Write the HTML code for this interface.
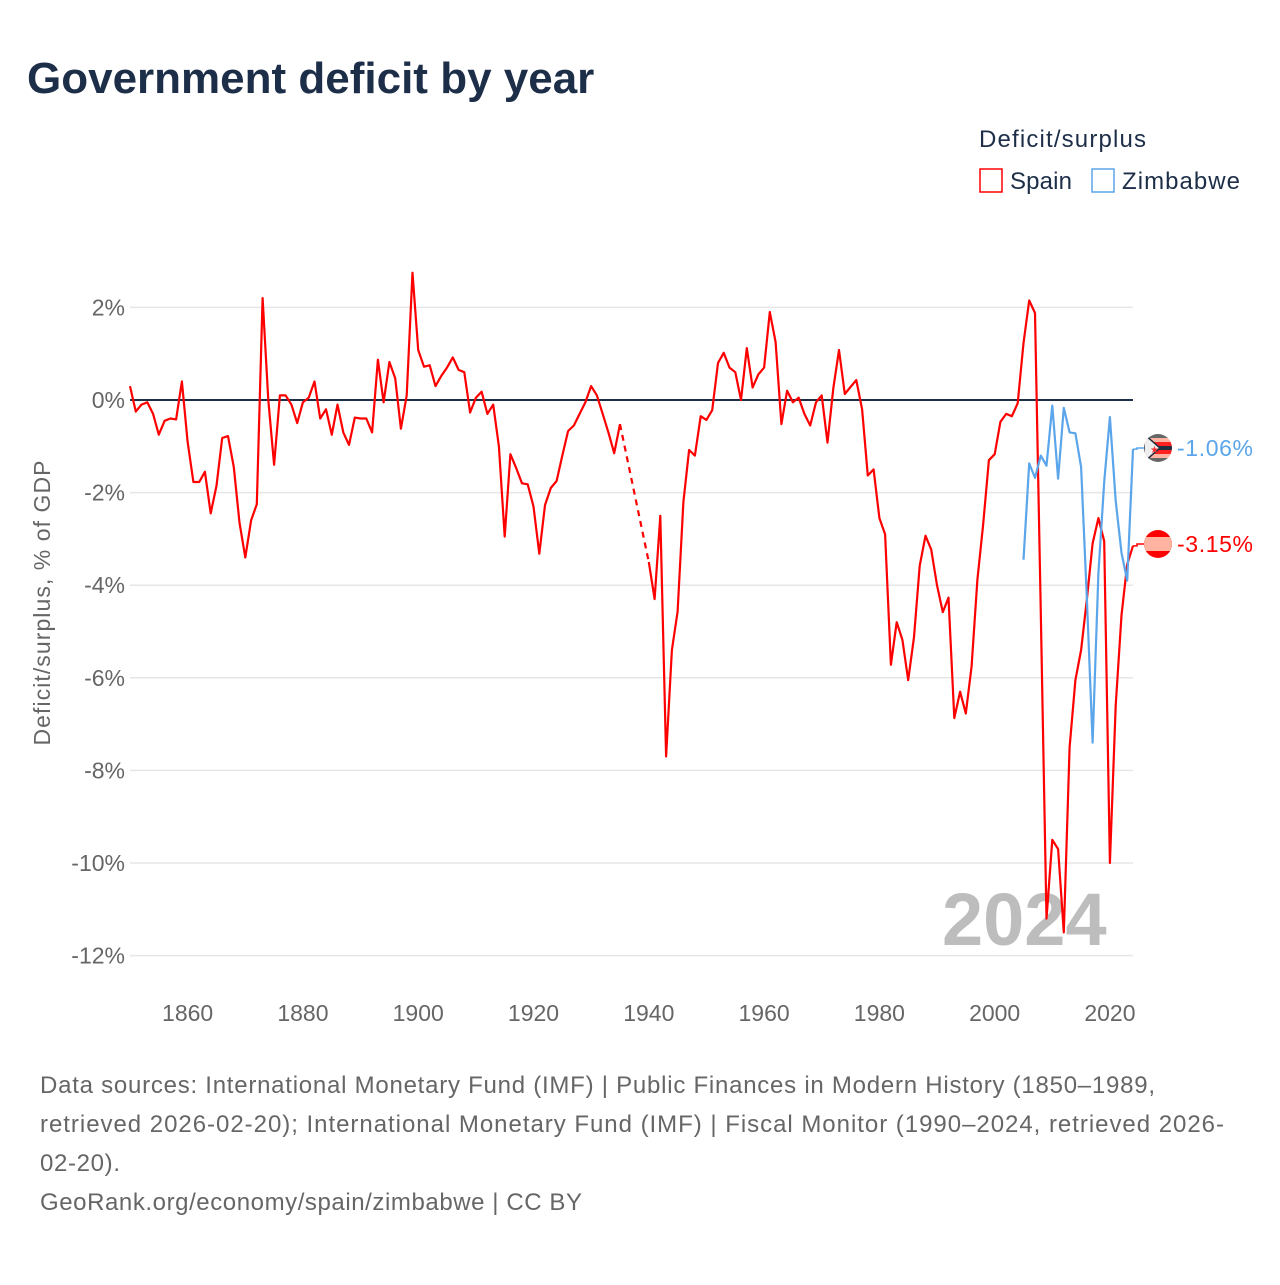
<!DOCTYPE html>
<html><head><meta charset="utf-8"><style>
html,body{margin:0;padding:0;background:#fff;}
body{width:1280px;height:1280px;overflow:hidden;font-family:"Liberation Sans",sans-serif;}
svg text{font-family:"Liberation Sans",sans-serif;}
</style></head><body>
<svg id="chart" width="1280" height="1280" viewBox="0 0 1280 1280">
<text x="27" y="93" font-size="44" font-weight="bold" fill="#1d2e48">Government deficit by year</text>
<text x="979" y="147" font-size="24" fill="#1d2e48" textLength="167" lengthAdjust="spacing">Deficit/surplus</text>
<g><rect x="980" y="169" width="22" height="23" fill="none" stroke="#ff0000" stroke-width="1.5"/><text x="1010" y="189" font-size="24" fill="#1d2e48" textLength="62" lengthAdjust="spacing">Spain</text></g>
<g><rect x="1092" y="169" width="22" height="23" fill="none" stroke="#5ba5eb" stroke-width="1.5"/><text x="1122" y="189" font-size="24" fill="#1d2e48" textLength="118" lengthAdjust="spacing">Zimbabwe</text></g>
<g id="grid"></g><g id="yticks"></g><g id="xticks"></g>
<text x="942" y="945" font-size="74" font-weight="bold" fill="#bdbdbd">2024</text>
<g id="series"></g>
<text transform="translate(50,603) rotate(-90)" text-anchor="middle" font-size="23" fill="#666" textLength="285" lengthAdjust="spacing">Deficit/surplus, % of GDP</text>
<g font-size="24" fill="#666">
<text x="40" y="1093" textLength="1115" lengthAdjust="spacing">Data sources: International Monetary Fund (IMF) | Public Finances in Modern History (1850–1989,</text>
<text x="40" y="1132" textLength="1184" lengthAdjust="spacing">retrieved 2026-02-20); International Monetary Fund (IMF) | Fiscal Monitor (1990–2024, retrieved 2026-</text>
<text x="40" y="1171" textLength="80" lengthAdjust="spacing">02-20).</text>
<text x="40" y="1210" textLength="542" lengthAdjust="spacing">GeoRank.org/economy/spain/zimbabwe | CC BY</text>
</g>
</svg>
<script>
const spainYears=[1850,1851,1852,1853,1854,1855,1856,1857,1858,1859,1860,1861,1862,1863,1864,1865,1866,1867,1868,1869,1870,1871,1872,1873,1874,1875,1876,1877,1878,1879,1880,1881,1882,1883,1884,1885,1886,1887,1888,1889,1890,1891,1892,1893,1894,1895,1896,1897,1898,1899,1900,1901,1902,1903,1904,1905,1906,1907,1908,1909,1910,1911,1912,1913,1914,1915,1916,1917,1918,1919,1920,1921,1922,1923,1924,1925,1926,1927,1928,1929,1930,1931,1932,1933,1934,1935,1940,1941,1942,1943,1944,1945,1946,1947,1948,1949,1950,1951,1952,1953,1954,1955,1956,1957,1958,1959,1960,1961,1962,1963,1964,1965,1966,1967,1968,1969,1970,1971,1972,1973,1974,1975,1976,1977,1978,1979,1980,1981,1982,1983,1984,1985,1986,1987,1988,1989,1990,1991,1992,1993,1994,1995,1996,1997,1998,1999,2000,2001,2002,2003,2004,2005,2006,2007,2008,2009,2010,2011,2012,2013,2014,2015,2016,2017,2018,2019,2020,2021,2022,2023,2024];
const spainValues=[0.3,-0.25,-0.1,-0.05,-0.3,-0.75,-0.45,-0.4,-0.42,0.4,-0.9,-1.77,-1.77,-1.55,-2.45,-1.85,-0.82,-0.78,-1.45,-2.65,-3.4,-2.6,-2.25,2.2,0,-1.4,0.1,0.1,-0.1,-0.5,-0.05,0.05,0.4,-0.4,-0.2,-0.75,-0.1,-0.7,-0.97,-0.38,-0.4,-0.4,-0.7,0.87,-0.05,0.82,0.47,-0.62,0.1,2.75,1.08,0.72,0.75,0.3,0.52,0.7,0.92,0.65,0.6,-0.27,0.05,0.18,-0.3,-0.1,-1.0,-2.95,-1.17,-1.47,-1.8,-1.82,-2.3,-3.32,-2.27,-1.9,-1.75,-1.2,-0.67,-0.55,-0.3,-0.05,0.3,0.1,-0.3,-0.7,-1.15,-0.52,-3.5,-4.3,-2.5,-7.7,-5.4,-4.57,-2.2,-1.08,-1.2,-0.35,-0.43,-0.22,0.8,1.02,0.7,0.6,0,1.12,0.27,0.55,0.7,1.9,1.25,-0.52,0.2,-0.05,0.05,-0.3,-0.55,-0.05,0.1,-0.92,0.25,1.08,0.13,0.28,0.43,-0.2,-1.63,-1.5,-2.55,-2.9,-5.72,-4.8,-5.18,-6.05,-5.12,-3.58,-2.93,-3.23,-4.0,-4.58,-4.27,-6.87,-6.3,-6.77,-5.75,-3.88,-2.7,-1.3,-1.17,-0.47,-0.3,-0.35,-0.07,1.23,2.15,1.88,-4.6,-11.2,-9.5,-9.7,-11.5,-7.5,-6.05,-5.4,-4.3,-3.1,-2.55,-3.05,-10.0,-6.6,-4.65,-3.55,-3.15];
const zimYears=[2005,2006,2007,2008,2009,2010,2011,2012,2013,2014,2015,2016,2017,2018,2019,2020,2021,2022,2023,2024];
const zimValues=[-3.45,-1.37,-1.68,-1.2,-1.42,-0.12,-1.7,-0.17,-0.7,-0.72,-1.45,-4.3,-7.4,-3.75,-1.77,-0.37,-2.18,-3.3,-3.9,-1.06];
const yTicks=[2,0,-2,-4,-6,-8,-10,-12];
const xTicks=[1860,1880,1900,1920,1940,1960,1980,2000,2020];

const NS="http://www.w3.org/2000/svg";
const x0=130,x1=1133,yr0=1850,yr1=2024;
const X=v=>x0+(v-yr0)*(x1-x0)/(yr1-yr0);
const Y=v=>400-v*46.3;
function mk(tag,attrs,parent){const e=document.createElementNS(NS,tag);for(const k in attrs)e.setAttribute(k,attrs[k]);parent.appendChild(e);return e;}
const grid=document.getElementById('grid'),yt=document.getElementById('yticks'),xt=document.getElementById('xticks'),ser=document.getElementById('series');
yTicks.forEach(v=>{
  if(v!==0){const l=mk('line',{x1:x0,x2:x1,y1:Y(v),y2:Y(v),stroke:'#e6e6e6','stroke-width':1.5},grid);
  
  }
  const t=mk('text',{x:125,y:Y(v)+8,'text-anchor':'end','font-size':23,fill:'#666'},yt);
  t.textContent=v+'%';
  
  
});
xTicks.forEach(v=>{
  const t=mk('text',{x:X(v),y:1021,'text-anchor':'middle','font-size':23,fill:'#666'},xt);
  t.textContent=v;
  
  
});
const zl=mk('line',{x1:x0,x2:x1,y1:Y(0),y2:Y(0),stroke:'#1d2e48','stroke-width':2},grid);



function drawSeries(years,vals,color,name){
  let segs=[[]],gaps=[];
  for(let i=0;i<years.length;i++){
    if(i>0&&years[i]-years[i-1]>1){gaps.push([i-1,i]);segs.push([]);}
    segs[segs.length-1].push(X(years[i]).toFixed(1)+','+Y(vals[i]).toFixed(1));
  }
  segs.forEach(s=>{const p=mk('polyline',{points:s.join(' '),fill:'none',stroke:color,'stroke-width':2.2,'stroke-linejoin':'round'},ser);
    
    });
  gaps.forEach(g=>{const p=mk('line',{x1:X(years[g[0]]),y1:Y(vals[g[0]]),x2:X(years[g[1]]),y2:Y(vals[g[1]]),stroke:color,'stroke-width':2.2,'stroke-dasharray':'6,5'},ser);
    
    });
}
drawSeries(spainYears,spainValues,'#ff0000','spain');
drawSeries(zimYears,zimValues,'#5ba5eb','zimbabwe');

function endLabel(vals,color,name,ly,flag){
  const v=vals[vals.length-1];
  const c=mk('polyline',{points:`${x1},${Y(v)} ${x1+4},${Y(v)} ${x1+4},${ly} ${x1+12},${ly}`,fill:'none',stroke:color,'stroke-width':1.5},ser);
  
  
  const g=mk('g',{},ser);
  
  
  g.innerHTML=flag;
  const t=mk('text',{x:1177,y:ly+8,'font-size':23,fill:color,textLength:76,lengthAdjust:'spacing'},ser);
  t.textContent=v.toFixed(2)+'%';
  
  
}
endLabel(zimValues,'#5ba5eb','zimbabwe',448,
 `<clipPath id="cz"><circle cx="1158" cy="448" r="14"/></clipPath><g clip-path="url(#cz)">
 <rect x="1144" y="434" width="28" height="4" fill="#666"/><rect x="1144" y="438" width="28" height="4" fill="#ffb3a0"/><rect x="1144" y="442" width="28" height="4" fill="#ff2020"/><rect x="1144" y="446" width="28" height="4" fill="#222d3d"/><rect x="1144" y="450" width="28" height="4" fill="#ff2020"/><rect x="1144" y="454" width="28" height="4" fill="#ffb3a0"/><rect x="1144" y="458" width="28" height="4" fill="#666"/>
 <polygon points="1144,434 1160,448 1144,462" fill="#eee" stroke="#222d3d" stroke-width="1.5"/><text x="1150" y="453" font-size="10" fill="#f33">★</text></g>`);
endLabel(spainValues,'#ff0000','spain',544,
 `<clipPath id="cs"><circle cx="1158" cy="544" r="14"/></clipPath><g clip-path="url(#cs)">
 <rect x="1144" y="530" width="28" height="28" fill="#ff0000"/><rect x="1144" y="537" width="28" height="14" fill="#ffb3a0"/></g>`);
</script>
</body></html>
